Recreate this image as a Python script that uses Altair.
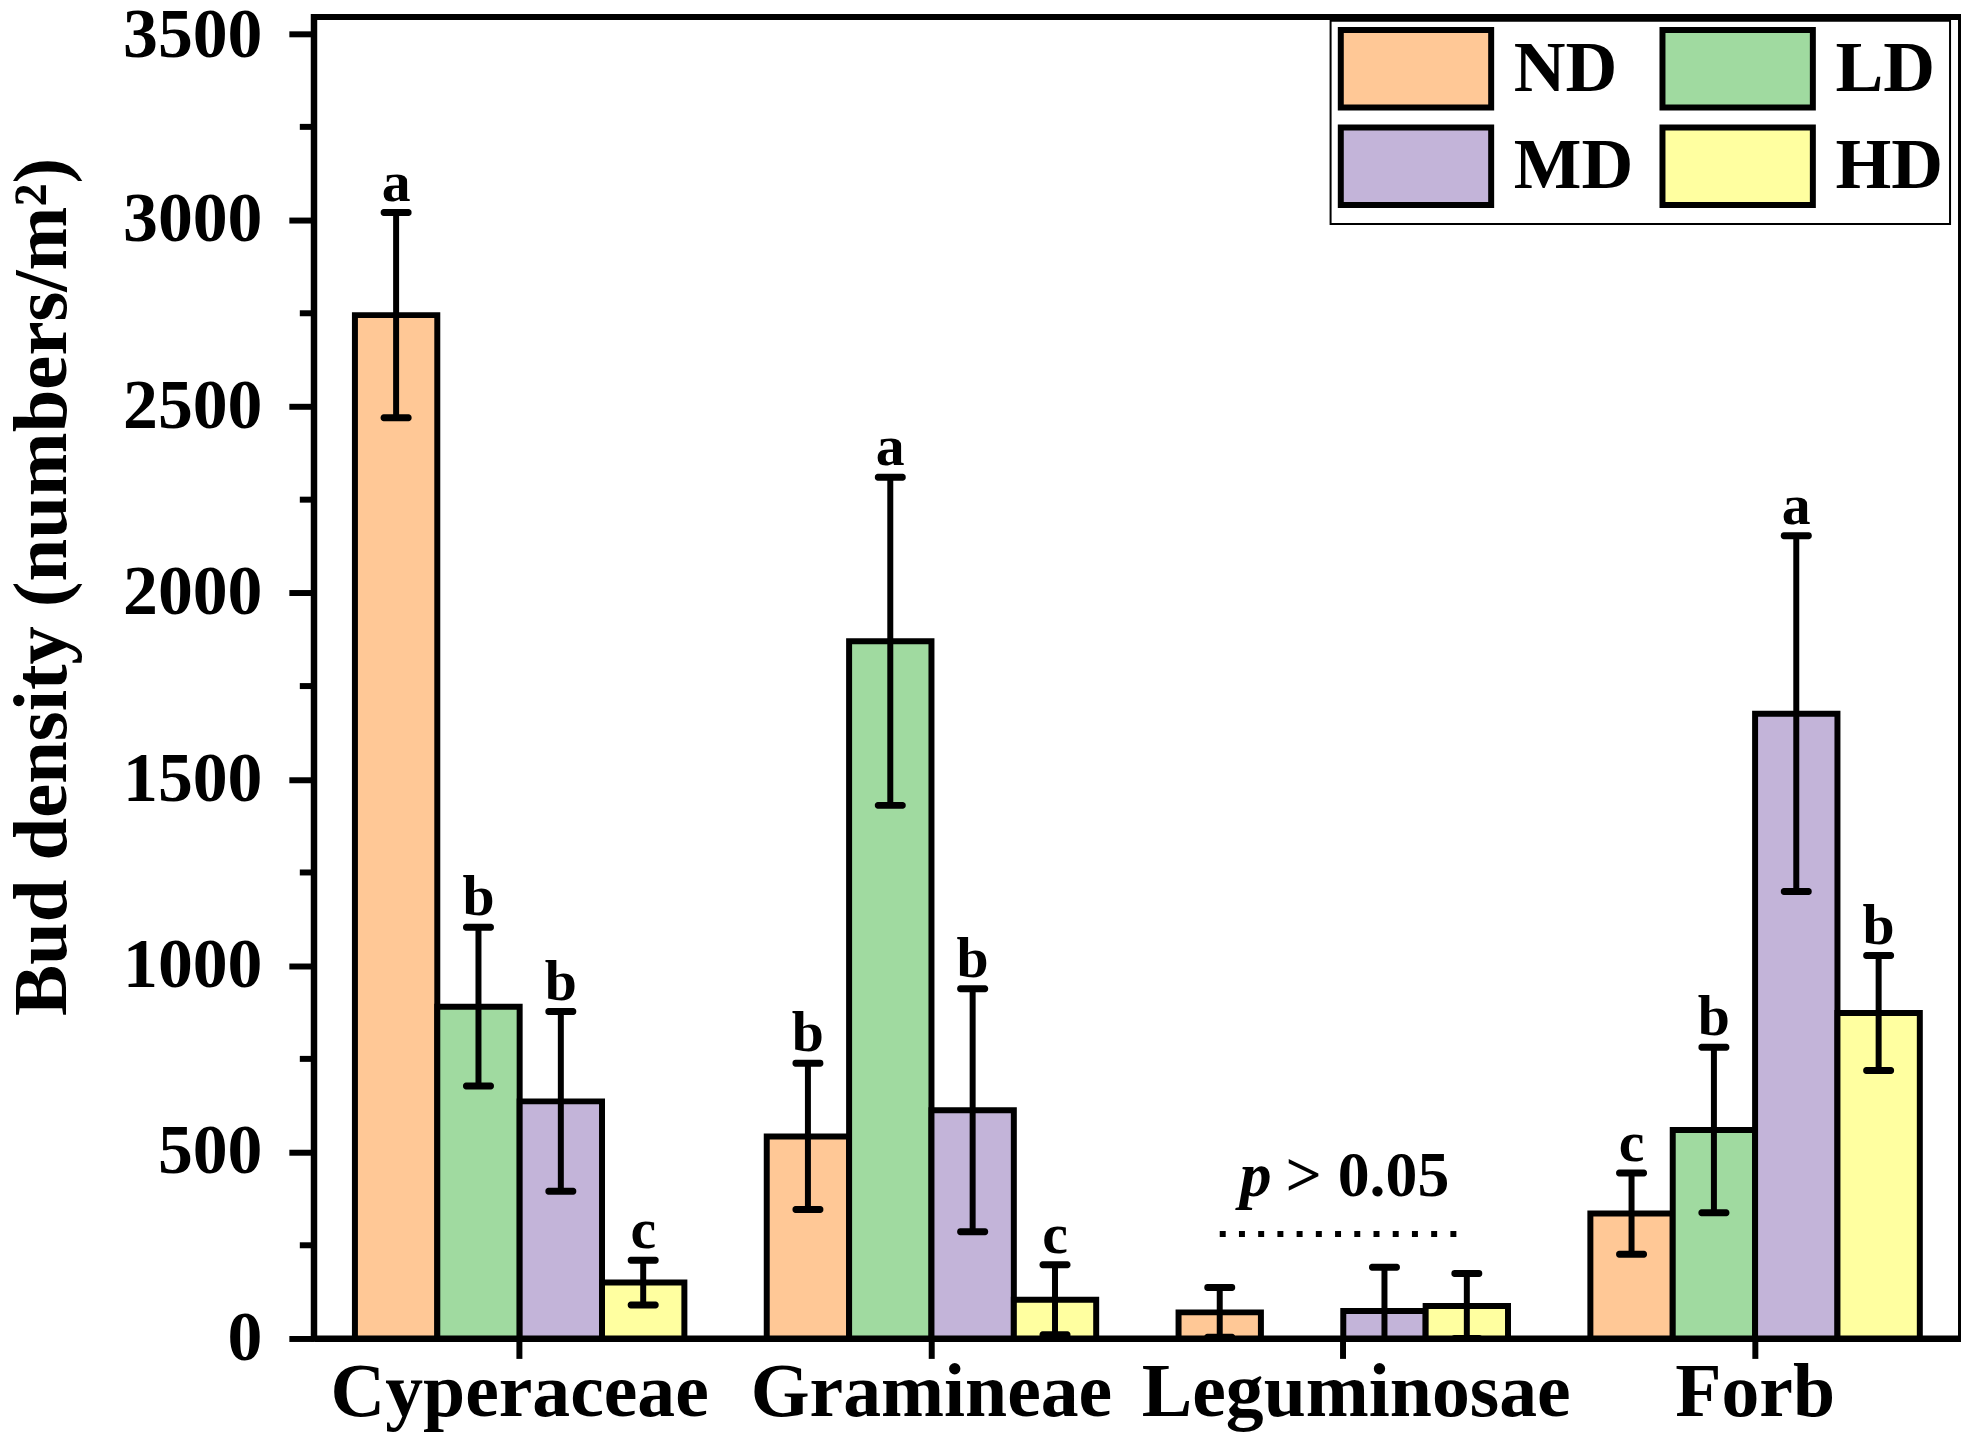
import altair as alt
import pandas as pd

# ---- data ----
categories = ["Cyperaceae", "Gramineae", "Leguminosae", "Forb"]
groups = ["ND", "LD", "MD", "HD"]
colors = ["#FFC896", "#A0DAA0", "#C3B4D9", "#FFFFA0"]

cyperaceae_mean = [2745, 890, 636, 150]
gramineae_mean = [542, 1870, 612, 104]
leguminosae_mean = [70, 0, 74, 87]
forb_mean = [335, 559, 1676, 873]

cyperaceae_se = [275, 213, 241, 60]
gramineae_se = [196, 440, 326, 94]
leguminosae_se = [67, 0, 117, 87]
forb_se = [109, 222, 477, 154]

cyperaceae_letters = ["a", "b", "b", "c"]
gramineae_letters = ["b", "a", "b", "c"]
leguminosae_letters = ["", "", "", ""]
forb_letters = ["c", "b", "a", "b"]

minor_ticks = [250, 750, 1250, 1750, 2250, 2750, 3250]
major_ticks = [0, 500, 1000, 1500, 2000, 2500, 3000, 3500]

annot_category = "Leguminosae"
annot_line_groups = ["ND", "HD"]
annot_line_y = 280
annot_text_y = 382

# ---- tables ----
means = [cyperaceae_mean, gramineae_mean, leguminosae_mean, forb_mean]
ses = [cyperaceae_se, gramineae_se, leguminosae_se, forb_se]
lets = [cyperaceae_letters, gramineae_letters, leguminosae_letters, forb_letters]
rows = []
for c, m, s, l in zip(categories, means, ses, lets):
    for g, mv, sv, lv in zip(groups, m, s, l):
        rows.append({"category": c, "group": g, "mean": mv, "se": sv,
                     "lower": mv - sv, "upper": mv + sv, "letter": lv})
df = pd.DataFrame(rows)
minor_df = pd.DataFrame({"v": minor_ticks})
line_df = pd.DataFrame({"category": [annot_category] * 2,
                        "group": annot_line_groups,
                        "v": [annot_line_y] * 2})
text_df = pd.DataFrame({"category": [annot_category], "v": [annot_text_y]})

FONT = "Liberation Serif"
TITLE = "Bud density (numbers/m\u00b2)"

yscale = alt.Scale(domain=[0, 3545], nice=False, zero=True)
yaxis = alt.Axis(values=major_ticks, format="d", labelFontSize=70,
                 labelPadding=27, tickSize=25, tickWidth=6, domainWidth=6,
                 labelOffset={"condition": {"test": "datum.value === 3500",
                                            "value": 2},
                              "value": 0},
                 titleFontSize=77, titleX=-233, titleY=572, grid=False)


def Y(field):
    return alt.Y(field, scale=yscale, axis=yaxis, title=TITLE)


X = alt.X("category:N", sort=categories,
          scale=alt.Scale(paddingInner=0.2, paddingOuter=0.1),
          axis=alt.Axis(title=None, labelAngle=0, labelFontSize=76,
                        labelLimit=0, labelBaseline="alphabetic",
                        labelPadding=57, tickSize=20, tickWidth=6,
                        domainWidth=6,
                        labelOffset={"condition": {"test": "datum.value === 'Leguminosae'",
                                                   "value": 13},
                                     "value": 0}))
XO = alt.XOffset("group:N", sort=groups,
                 scale=alt.Scale(domain=groups, paddingInner=0, paddingOuter=0))

legend = alt.Legend(title=None, orient="none", legendX=1021, legendY=4,
                    direction="horizontal", columns=2,
                    symbolType="M-1,-1.03H3V1.03H-1Z",
                    symbolSize=5700, symbolStrokeColor="black",
                    symbolStrokeWidth=6, symbolOpacity=1,
                    labelFontSize=72, labelFont=FONT, labelFontWeight="bold",
                    labelColor="black", labelLimit=0, strokeColor="black",
                    padding=7, rowPadding=-4, columnPadding=17,
                    labelOffset=95)

base = alt.Chart(df)

bars = base.transform_filter("datum.mean > 0").mark_bar(
    stroke="black", strokeWidth=6, opacity=1
).encode(
    x=X, xOffset=XO, y=Y("mean:Q"),
    color=alt.Color("group:N", sort=groups,
                    scale=alt.Scale(domain=groups, range=colors), legend=legend),
)

err = base.transform_filter("datum.se > 0").mark_rule(
    color="black", strokeWidth=6, clip=True
).encode(x=X, xOffset=XO, y=Y("lower:Q"), y2="upper:Q")

cap_hi = base.transform_filter("datum.se > 0").mark_tick(
    color="black", size=31, thickness=7, cornerRadius=3, clip=True, opacity=1
).encode(x=X, xOffset=XO, y=Y("upper:Q"))

cap_lo = base.transform_filter("datum.se > 0").mark_tick(
    color="black", size=31, thickness=7, cornerRadius=3, clip=True, opacity=1
).encode(x=X, xOffset=XO, y=Y("lower:Q"))

letters = base.transform_filter("datum.letter != ''").mark_text(
    font=FONT, fontSize=58, fontWeight="bold", baseline="alphabetic",
    dy=-12, color="black"
).encode(x=X, xOffset=XO, y=Y("upper:Q"), text="letter:N")

minor = alt.Chart(minor_df).mark_rule(color="black", strokeWidth=6).encode(
    y=Y("v:Q"), x=alt.value(-14), x2=alt.value(0)
)

dotted = alt.Chart(line_df).mark_line(
    color="black", strokeWidth=6, strokeDash=[6, 13.3], strokeCap="butt"
).encode(x=X, xOffset=XO, y=Y("v:Q"))

p_text = alt.Chart(text_df).mark_text(
    text="p", font=FONT, fontSize=64, fontWeight="bold", fontStyle="italic",
    baseline="alphabetic", align="center", dx=-88, color="black"
).encode(x=X, y=Y("v:Q"))

rest_text = alt.Chart(text_df).mark_text(
    text="> 0.05", font=FONT, fontSize=64, fontWeight="bold",
    baseline="alphabetic", align="left", dx=-58, color="black"
).encode(x=X, y=Y("v:Q"))

chart = alt.layer(
    bars, err, cap_hi, cap_lo, letters, minor, dotted, p_text, rest_text
).properties(
    width=1654, height=1327,
    autosize=alt.AutoSizeParams(type="none"),
    padding={"left": 307, "top": 6, "right": 0, "bottom": 95},
).configure_view(
    stroke="black", strokeWidth=6
).configure_axis(
    domainColor="black", tickColor="black", labelColor="black",
    titleColor="black", labelFont=FONT, titleFont=FONT,
    labelFontWeight="bold", titleFontWeight="bold", grid=False,
).configure_legend(
    strokeWidth=2
)

chart.save("out.html", embed_options={"renderer": "svg", "actions": False})
